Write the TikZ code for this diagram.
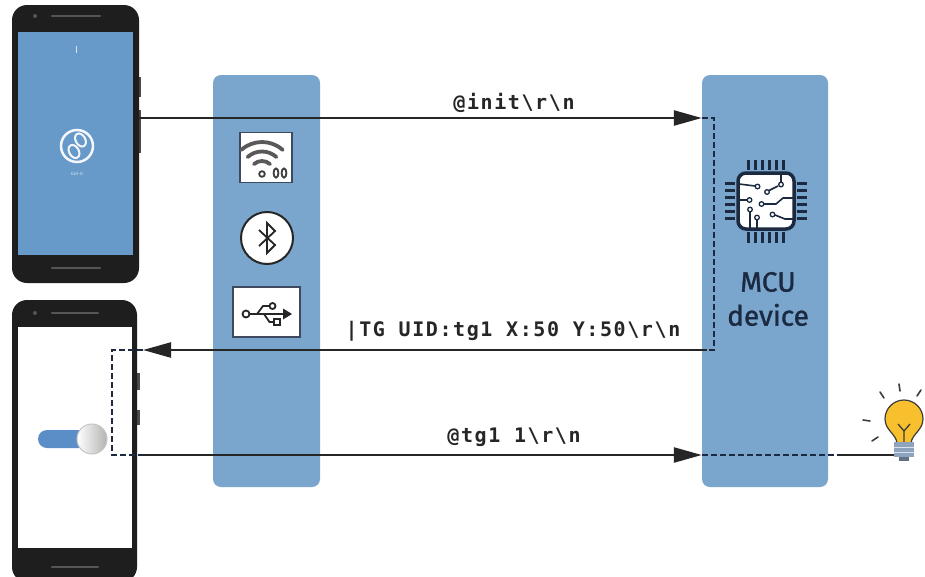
\documentclass[tikz,border=0pt]{standalone}
\usepackage{fontspec}
\setmainfont{Fira Sans}
\newfontfamily\codefont[LetterSpace=8]{DejaVu Sans Mono}
\newfontfamily\labelfont[FakeBold=1.2]{Fira Sans}
\newfontfamily\tinyfont{Fira Sans}
\usetikzlibrary{arrows.meta,calc}
\definecolor{screenblue}{HTML}{689AC9}
\definecolor{laneblue}{HTML}{7AA6CE}
\definecolor{navy}{HTML}{1B2A40}
\definecolor{bezel}{HTML}{1E1E1E}
\definecolor{slit}{HTML}{555555}
\definecolor{toggle}{HTML}{5B8EC6}
\definecolor{bulbyellow}{HTML}{F8C02C}
\definecolor{bulbbase}{HTML}{8EA3BD}
\definecolor{inkgray}{HTML}{3C3C3C}

\begin{document}
\begin{tikzpicture}[x=1pt,y=-1pt,
  phone/.style={draw=none, fill=bezel, rounded corners=15pt, inner sep=0pt},
  screen/.style={draw=none, inner sep=0pt},
  lane/.style={fill=laneblue, rounded corners=8pt, inner sep=0pt,
               minimum width=107pt, minimum height=412pt},
  msg/.style={line width=2.4pt, black!85, -{Triangle[length=28pt,width=15pt]}},
  wire/.style={line width=2.4pt, black!85},
  hop/.style={line width=2.4pt, navy, dash pattern=on 6pt off 3pt},
  code/.style={font=\codefont\bfseries\fontsize{20}{24}\selectfont,
               text=black!85, inner sep=0pt},
  iconbox/.style={fill=white, draw=navy!85, line width=1.6pt, inner sep=0pt},
  slitline/.style={slit, line width=2.5pt, line cap=round},
  sidekey/.style={fill=bezel!80},
  pin/.style={line width=3pt, navy},
  trace/.style={line width=1.6pt, navy},
  pad/.style={draw=navy, line width=1.3pt, fill=white},
  ray/.style={inkgray, line width=1.6pt, line cap=round},
]
\useasboundingbox (0,0) rectangle (925,576);
\fill[white] (0,0) rectangle (925,576);

% ---------- upper phone (GUI-O start screen) ----------
\fill[sidekey] (137,77) rectangle (140.5,97);
\fill[sidekey] (137,110) rectangle (140.5,153);
\node[phone, minimum width=127pt, minimum height=278pt] (phone1) at (75.5,144) {};
\node[screen, fill=screenblue, minimum width=115pt, minimum height=223pt] (screen1) at (75.5,143.5) {};
\draw[slitline] (52,16) -- (100,16);
\fill[slit] (35,16) circle (2pt);
\draw[slitline] (52,268) -- (100,268);
\fill[white!75!screenblue] (75.6,46) rectangle (77.2,53);
\node[circle, draw=white!92!screenblue, line width=2.5pt, minimum size=32pt, inner sep=0pt] (appicon) at (77,146) {};
\draw[white!92!screenblue, line width=2pt] (80.5,140) ellipse [x radius=7, y radius=4.8, rotate=-60];
\draw[white!92!screenblue, line width=2pt] (74,151.5) ellipse [x radius=7, y radius=4.8, rotate=-60];
\node[text=white!75!screenblue, font=\tinyfont\fontsize{4.5}{5}\selectfont, inner sep=0pt] (appname) at (77,174) {GUI-O};

% ---------- lower phone (toggle screen) ----------
\fill[sidekey] (136,373) rectangle (139.5,390);
\fill[sidekey] (136,410) rectangle (139.5,425);
\node[phone, minimum width=125pt, minimum height=282pt] (phone2) at (74.5,441) {};
\node[screen, fill=white, minimum width=114pt, minimum height=221pt] (screen2) at (75,437.5) {};
\draw[slitline] (52,313) -- (98,313);
\fill[slit] (35,313) circle (2pt);
\draw[slitline] (52,567) -- (98,567);
\fill[toggle, rounded corners=9pt] (38,430) rectangle (96,448);
\node[circle, minimum size=30pt, inner sep=0pt, draw=gray!45, line width=1pt,
      left color=white, right color=gray!60] (knob) at (92,439) {};

% ---------- transport lane ----------
\node[lane] (bridge) at (266.5,281) {};
\node[iconbox, minimum width=52pt, minimum height=50pt] (wifi) at (266,157.5) {};
\begin{scope}[inkgray!85, line width=3.8pt, line cap=round]
  \draw (262,173) ++(228:12) arc[start angle=228, end angle=312, radius=12];
  \draw (262,173) ++(228:21.5) arc[start angle=228, end angle=312, radius=21.5];
  \draw (262,173) ++(228:31) arc[start angle=228, end angle=312, radius=31];
\end{scope}
\draw[inkgray, line width=1.8pt] (262,174) circle (2.8pt);
\draw[inkgray, line width=1.8pt] (276,173) ellipse [x radius=2.4, y radius=4.6];
\draw[inkgray, line width=1.8pt] (284,173) ellipse [x radius=2.4, y radius=4.6];

\node[circle, fill=white, draw=black!85, line width=2pt, minimum size=52pt, inner sep=0pt] (bt) at (267,238) {};
\draw[black!85, line width=1.8pt, line join=miter]
  ($(bt.center)+(-8,-8)$) -- ($(bt.center)+(8,7)$) -- ($(bt.center)+(0,15)$)
  -- ($(bt.center)+(0,-15)$) -- ($(bt.center)+(8,-7)$) -- ($(bt.center)+(-8,8)$);

\node[iconbox, minimum width=67pt, minimum height=50pt] (usb) at (266.5,312) {};
\begin{scope}[black!85, line width=1.8pt]
  \draw (246,314) circle (3.5pt);
  \draw (249.5,314) -- (284,314);
  \fill (283,308.5) -- (292,314) -- (283,319.5) -- cycle;
  \draw (257,314) -- (263,306) -- (269.5,306);
  \draw (272.5,306) circle (3pt);
  \draw (264,314) -- (269.5,322) -- (274,322);
  \draw (274,319) rectangle (280,325);
\end{scope}

% ---------- MCU lane ----------
\node[lane, minimum width=126pt] (mcu) at (765,281) {};
\foreach \d in {-17.5,-10.5,-3.5,3.5,10.5,17.5} {
  \draw[pin] (766+\d,160) -- (766+\d,170);
  \draw[pin] (766+\d,232) -- (766+\d,243);
  \draw[pin] (725,201+\d) -- (735,201+\d);
  \draw[pin] (797,201+\d) -- (807,201+\d);
}
\node[draw=navy, line width=3.5pt, fill=white, rounded corners=8pt, minimum size=56pt, inner sep=0pt] (chip) at (766,201) {};
\begin{scope}[trace]
  \draw (781,173) -- (781,182);
  \draw (769,190.5) -- (778,186);
  \draw (739,184) -- (755,186);
  \draw (739,200) -- (747,200);
  \draw (764,204) -- (776,204) -- (783,198) -- (794,198);
  \draw (750,212) -- (750,229);
  \draw (757,220) -- (757,229);
  \draw (775,215) -- (785,219) -- (794,219);
\end{scope}
\foreach \p in {(781,184.5),(767,192),(757.5,186.5),(749.5,200),(761.5,204),(750,209.5),(757,217.5),(772.5,214.5)}
  \draw[pad] \p circle (2.3pt);
\node[font=\labelfont\fontsize{28}{34}\selectfont, text=navy, align=center, inner sep=0pt] (mculabel) at (768,299) {MCU\\device};

% ---------- light bulb ----------
\draw[ray] (863,420) -- (870,421);
\draw[ray] (872,441) -- (878,437);
\draw[ray] (880,392) -- (884,398);
\draw[ray] (899,384) -- (900,391);
\draw[ray] (921,390) -- (917,396);
\fill[bulbyellow] (897,430) rectangle (911,443);
\filldraw[fill=bulbyellow, draw=inkgray, line width=1.2pt]
  (897,443) .. controls (896,434) and (885,430) .. (885,419)
  arc[start angle=180, end angle=360, radius=19]
  .. controls (923,430) and (912,434) .. (911,443);
\draw[inkgray, line width=1.3pt] (904,443) -- (904,430) (898,424) -- (904,431) -- (910,424);
\fill[bulbbase] (894,442) rectangle (914,457);
\draw[white!70!bulbbase, line width=1pt] (894,447) -- (914,447) (894,452) -- (914,452);
\fill[bulbbase!70!black] (899,457) rectangle (909,461);
\coordinate (lamp) at (894,455);

% ---------- message flow ----------
\coordinate (row1) at (0,118);
\coordinate (row2) at (0,350);
\coordinate (row3) at (0,455);
\coordinate (turnA) at (714,118);
\coordinate (turnB) at (714,350);
\coordinate (replyStart) at (707,350);
\coordinate (phoneIn) at (143,350);
\coordinate (tapTop) at (112,350);
\coordinate (tapBottom) at (112,455);
\coordinate (tapOut) at (143,455);
\coordinate (wireSplit) at (838,455);

\draw[msg] (phone1.east |- row1) -- (mcu.west |- row1);
\draw[hop] (mcu.west |- row1) -- (turnA) -- (turnB) -- (replyStart);
\draw[msg] (replyStart) -- (phoneIn);
\draw[hop] (phoneIn) -- (tapTop) -- (tapBottom) -- (tapOut);
\draw[msg] (tapOut) -- (mcu.west |- row3);
\draw[hop] (mcu.west |- row3) -- (wireSplit);
\draw[wire] (wireSplit) -- (lamp);

\node[code] (initmsg) at (514,103) {@init\textbackslash r\textbackslash n};
\node[code] (tgmsg) at (513,331) {\textbar TG UID:tg1 X:50 Y:50\textbackslash r\textbackslash n};
\node[code] (setmsg) at (514,437) {@tg1 1\textbackslash r\textbackslash n};
\end{tikzpicture}
\end{document}
